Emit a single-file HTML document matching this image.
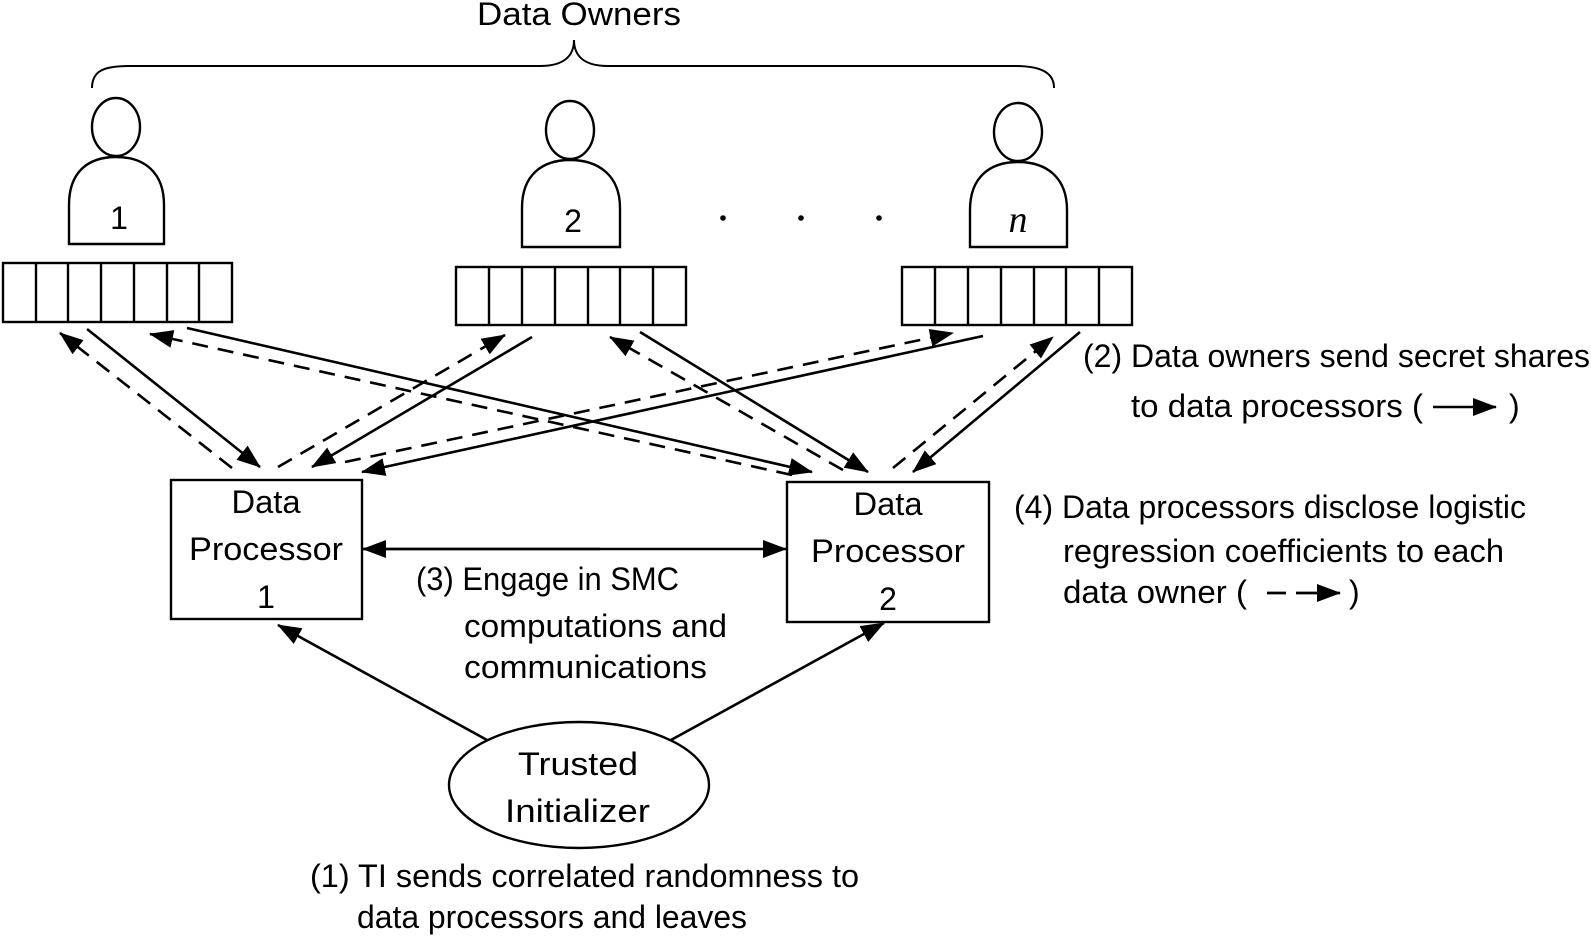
<!DOCTYPE html>
<html><head><meta charset="utf-8"><style>
html,body{margin:0;padding:0;background:#fff;}
svg{display:block;}
text{font-family:"Liberation Sans",sans-serif;font-size:32px;fill:#000;}
</style></head><body>
<svg width="1591" height="938" viewBox="0 0 1591 938" xmlns="http://www.w3.org/2000/svg">
<defs>
<marker id="a" viewBox="0 0 24 18" refX="23" refY="9" markerWidth="24" markerHeight="18" markerUnits="userSpaceOnUse" orient="auto">
<path d="M0,0 L24,9 L0,18 Z" fill="#000"/>
</marker>
</defs>
<g fill="none" stroke="#000" stroke-width="2.4">
<path d="M92,88 C92,70 105,66 130,66 L540,66 C565,66 574,55 574,40 C574,55 583,66 608,66 L1015,66 C1045,66 1054,75 1054,88" stroke-width="2"/>
<ellipse cx="116" cy="127" rx="24" ry="29"/>
<path d="M69,244 L69,205 C69,172 88,157 116,157 C144,157 164,172 164,205 L164,244 Z"/>
<ellipse cx="570" cy="130" rx="24" ry="29"/>
<path d="M522,247 L522,208 C522,175 542,160 570,160 C598,160 620,175 620,208 L620,247 Z"/>
<ellipse cx="1018" cy="132" rx="24" ry="29"/>
<path d="M970,247 L970,210 C970,177 990,162 1018,162 C1046,162 1067,177 1067,210 L1067,247 Z"/>
<rect x="3" y="263" width="229" height="59"/>
<path d="M36,263V322M68,263V322M101,263V322M134,263V322M167,263V322M199,263V322"/>
<rect x="456" y="267" width="230" height="58"/>
<path d="M489,267V325M522,267V325M555,267V325M588,267V325M620,267V325M653,267V325"/>
<rect x="902" y="267" width="230" height="58"/>
<path d="M935,267V325M968,267V325M1001,267V325M1034,267V325M1066,267V325M1099,267V325"/>
<rect x="171" y="480" width="191" height="139"/>
<rect x="787" y="482" width="202" height="140"/>
<ellipse cx="579" cy="785" rx="130" ry="63"/>
</g>
<g stroke="#000" stroke-width="2.6" fill="none">
<line x1="87" y1="329" x2="260" y2="467" marker-end="url(#a)"/>
<line x1="187" y1="328" x2="812" y2="472" marker-end="url(#a)"/>
<line x1="532" y1="337" x2="312" y2="467" marker-end="url(#a)"/>
<line x1="640" y1="332" x2="868" y2="472" marker-end="url(#a)"/>
<line x1="983" y1="336" x2="362" y2="472" marker-end="url(#a)"/>
<line x1="1080" y1="332" x2="913" y2="472" marker-end="url(#a)"/>
<line x1="487" y1="740" x2="278" y2="625" marker-end="url(#a)"/>
<line x1="671" y1="740" x2="884" y2="623" marker-end="url(#a)"/>
<line x1="364" y1="549" x2="786" y2="549" marker-end="url(#a)"/>
<line x1="600" y1="549" x2="363" y2="549" marker-end="url(#a)"/>
</g>
<g stroke="#000" stroke-width="2.6" fill="none" stroke-dasharray="16,10">
<line x1="232" y1="468" x2="60" y2="333" marker-end="url(#a)"/>
<line x1="792" y1="475" x2="150" y2="334" marker-end="url(#a)"/>
<line x1="278" y1="467" x2="505" y2="335" marker-end="url(#a)"/>
<line x1="843" y1="470" x2="610" y2="337" marker-end="url(#a)"/>
<line x1="345" y1="462" x2="953" y2="333" marker-end="url(#a)"/>
<line x1="893" y1="468" x2="1053" y2="337" marker-end="url(#a)"/>
</g>
<circle cx="723" cy="218" r="2.8"/><circle cx="801" cy="218" r="2.8"/><circle cx="879" cy="218" r="2.8"/>
<text x="477" y="25" textLength="204" lengthAdjust="spacingAndGlyphs">Data Owners</text>
<text x="119" y="229" text-anchor="middle">1</text>
<text x="573" y="232" text-anchor="middle">2</text>
<text x="1018" y="232" text-anchor="middle" style="font-family:'Liberation Serif',serif;font-style:italic;font-size:38px">n</text>
<text x="266" y="513" text-anchor="middle" textLength="69" lengthAdjust="spacingAndGlyphs">Data</text>
<text x="266" y="560" text-anchor="middle" textLength="154" lengthAdjust="spacingAndGlyphs">Processor</text>
<text x="266" y="608" text-anchor="middle">1</text>
<text x="888" y="515" text-anchor="middle" textLength="69" lengthAdjust="spacingAndGlyphs">Data</text>
<text x="888" y="562" text-anchor="middle" textLength="154" lengthAdjust="spacingAndGlyphs">Processor</text>
<text x="888" y="610" text-anchor="middle">2</text>
<text x="518" y="775" textLength="120" lengthAdjust="spacingAndGlyphs">Trusted</text>
<text x="505" y="822" textLength="145" lengthAdjust="spacingAndGlyphs">Initializer</text>
<text x="416" y="590" textLength="263" lengthAdjust="spacingAndGlyphs">(3) Engage in SMC</text>
<text x="464" y="637" textLength="263" lengthAdjust="spacingAndGlyphs">computations and</text>
<text x="464" y="678" textLength="243" lengthAdjust="spacingAndGlyphs">communications</text>
<text x="310" y="887" textLength="549" lengthAdjust="spacingAndGlyphs">(1) TI sends correlated randomness to</text>
<text x="357" y="928" textLength="390" lengthAdjust="spacingAndGlyphs">data processors and leaves</text>
<text x="1083" y="367" textLength="507" lengthAdjust="spacingAndGlyphs">(2) Data owners send secret shares</text>
<text x="1131" y="417" textLength="292" lengthAdjust="spacingAndGlyphs">to data processors (</text>
<text x="1509" y="417">)</text>
<line x1="1433" y1="407" x2="1496" y2="407" stroke="#000" stroke-width="2.6" marker-end="url(#a)"/>
<text x="1014" y="518" textLength="512" lengthAdjust="spacingAndGlyphs">(4) Data processors disclose logistic</text>
<text x="1063" y="562" textLength="441" lengthAdjust="spacingAndGlyphs">regression coefficients to each</text>
<text x="1063" y="603" textLength="184" lengthAdjust="spacingAndGlyphs">data owner (</text>
<text x="1349" y="603">)</text>
<line x1="1267" y1="593" x2="1286" y2="593" stroke="#000" stroke-width="2.8"/>
<line x1="1296" y1="593" x2="1340" y2="593" stroke="#000" stroke-width="2.8" marker-end="url(#a)"/>
</svg>
</body></html>
